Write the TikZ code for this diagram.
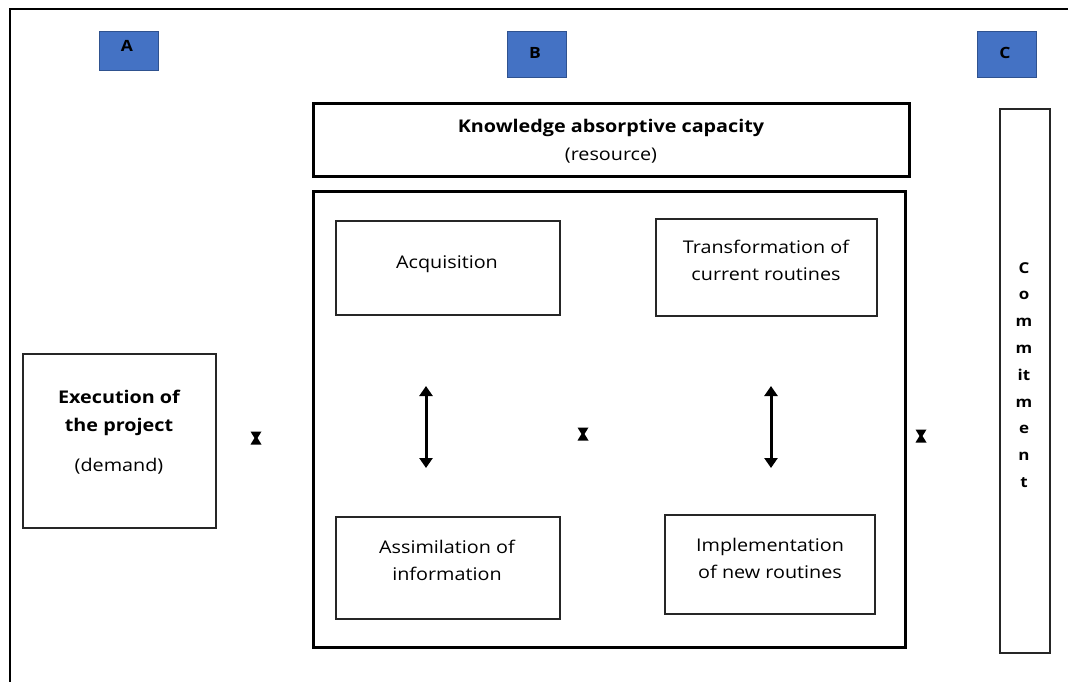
\documentclass[tikz,border=0pt]{standalone}
\usepackage{fontspec}
\setmainfont{Open Sans}[FakeStretch=1.13]
\usetikzlibrary{arrows.meta}
\definecolor{lblue}{HTML}{4472C4}
\definecolor{lbord}{HTML}{2F528F}
\begin{document}
\begin{tikzpicture}[x=1pt,y=-1pt,
  lbl/.style={draw=lbord,fill=lblue,line width=1pt},
  ltxt/.style={font=\fontsize{15.5}{18}\selectfont\bfseries,inner sep=0pt},
  thin/.style={draw=black!85,line width=1.3pt},
  thick/.style={draw=black,line width=3pt},
  txt/.style={font=\fontsize{17.5}{27}\selectfont,align=center,inner sep=0pt},
  btxt/.style={font=\fontsize{17.5}{28}\selectfont\bfseries,align=center,inner sep=0pt},
  dbl/.style={line width=3pt,{Triangle[length=10pt,width=13pt]}-{Triangle[length=10pt,width=13pt]}},
  hg/.style={fill=black}
]
\useasboundingbox (0,0) rectangle (1068,681);
\fill[white] (0,0) rectangle (1068,681);
% outer frame
\draw[line width=2.5pt] (10,700) -- (10,9) -- (1080,9);
% labels
\draw[lbl] (99,31) rectangle (158,70);
\node[ltxt] (la) at (127,46) {A};
\draw[lbl] (507,31) rectangle (566,77);
\node[ltxt] (lb) at (535,53) {B};
\draw[lbl] (977,31) rectangle (1036,77);
\node[ltxt] (lc) at (1005,53) {C};
% knowledge box
\draw[thick] (313,103) rectangle (909,176);
\node[btxt] (kt) at (611,128) {Knowledge absorptive capacity};
\node[txt] (kr) at (611,156) {(resource)};
% big inner box
\draw[thick] (313,191) rectangle (905,647);
% inner boxes
\draw[thin] (336,221) rectangle (560,315);
\node[txt] (acq) at (447,264) {Acquisition};
\draw[thin] (656,219) rectangle (877,316);
\node[txt] (tra) at (766,260) {Transformation of\\current routines};
\draw[thin] (336,517) rectangle (560,619);
\node[txt] (ass) at (447,560) {Assimilation of\\information};
\draw[thin] (665,515) rectangle (875,614);
\node[txt] (imp) at (770,558.5) {Implementation\\of new routines};
% execution
\draw[thin] (23,354) rectangle (216,528);
\node[btxt] (ex) at (119,412.5) {Execution of\\the project};
\node[txt] (dem) at (119,466) {(demand)};
% commitment
\draw[thin] (1000,109) rectangle (1050,653);
\node[font=\fontsize{15}{26.8}\selectfont\bfseries,align=center,inner sep=0pt] (com) at (1024,375) {C\\o\\m\\m\\it\\m\\e\\n\\t};
% vertical arrows
\coordinate (a1t) at (426,386);
\coordinate (a1b) at (426,468);
\draw[dbl] (a1t) -- (a1b);
\coordinate (a2t) at (771,386);
\coordinate (a2b) at (771,468);
\draw[dbl] (a2t) -- (a2b);
% hourglasses
\foreach \n/\x/\y in {h1/256/438, h2/583/434, h3/921/436}{
  \coordinate (\n) at (\x,\y);
  \fill[hg] ([shift={(-5.5,-6.5)}]\n) -- ([shift={(5.5,-6.5)}]\n) -- ([shift={(1.5,0)}]\n) -- ([shift={(5.5,6.5)}]\n) -- ([shift={(-5.5,6.5)}]\n) -- ([shift={(-1.5,0)}]\n) -- cycle;
}
\end{tikzpicture}
\end{document}
